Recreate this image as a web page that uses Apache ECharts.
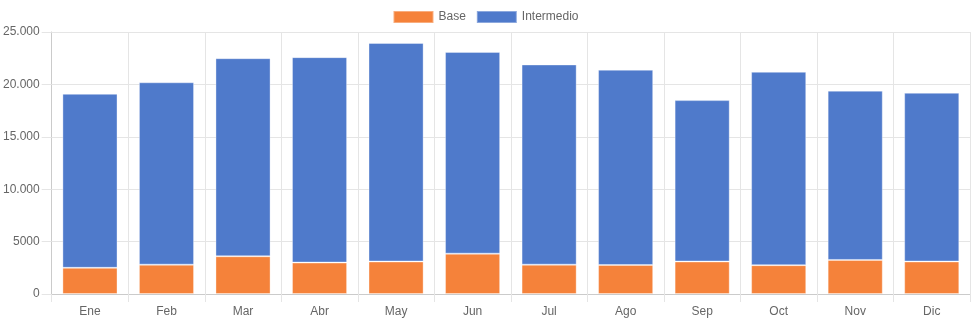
<!DOCTYPE html>
<html><head><meta charset="utf-8">
<script src="https://cdn.jsdelivr.net/npm/echarts@6/dist/echarts.min.js"></script>
<style>html,body{margin:0;padding:0;background:#fff}#c{width:971px;height:323px}</style>
</head><body><div id="c"></div>
<script>
const categories = ['Ene','Feb','Mar','Abr','May','Jun','Jul','Ago','Sep','Oct','Nov','Dic'];
const baseValues = [2500, 2800, 3600, 3000, 3100, 3850, 2800, 2770, 3100, 2750, 3250, 3100];
const intermedioValues = [16600, 17400, 18900, 19600, 20850, 19250, 19100, 18630, 15400, 18450, 16150, 16100];
const yTicks = {min: 0, max: 25000, interval: 5000};

const font = 'Liberation Sans, Arial, Helvetica, sans-serif';
const grid = '#e5e5e5';
const axisCol = '#cbcbcb';
function fmt(v){ return v >= 10000 ? String(v).replace(/\B(?=(\d{3})+(?!\d))/g, '.') : String(v); }

const chart = echarts.init(document.getElementById('c'), null, {renderer:'canvas'});
chart.setOption({
  animation: false,
  legend: {
    top: 10, left: 'center', padding: 0, itemWidth: 40, itemHeight: 12, itemGap: 10,
    icon: 'rect',
    textStyle: {color: '#666', fontSize: 12, fontFamily: font},
    data: ['Base', 'Intermedio']
  },
  grid: {left: 50, right: 1, top: 32, bottom: 29, containLabel: false},
  xAxis: {
    type: 'category', data: categories,
    axisLine: {show: true, lineStyle: {color: axisCol}},
    axisTick: {show: true, length: 8, lineStyle: {color: grid}},
    splitLine: {show: true, lineStyle: {color: grid}},
    axisLabel: {color: '#666', fontSize: 12, fontFamily: font, margin: 12}
  },
  yAxis: {
    type: 'value', min: yTicks.min, max: yTicks.max, interval: yTicks.interval,
    axisLine: {show: true, lineStyle: {color: axisCol}},
    axisTick: {show: true, length: 10, lineStyle: {color: grid}},
    splitLine: {show: true, lineStyle: {color: grid}},
    axisLabel: {color: '#666', fontSize: 12, fontFamily: font, margin: 12, formatter: fmt}
  },
  series: [
    {name: 'Base', type: 'bar', stack: 't', data: baseValues, barCategoryGap: '28%',
     itemStyle: {color: '#F5823A', borderColor: 'rgba(255,255,255,0.35)', borderWidth: 1}},
    {name: 'Intermedio', type: 'bar', stack: 't', data: intermedioValues, barCategoryGap: '28%',
     itemStyle: {color: '#4F7ACB', borderColor: 'rgba(255,255,255,0.35)', borderWidth: 1}}
  ]
});
</script></body></html>
